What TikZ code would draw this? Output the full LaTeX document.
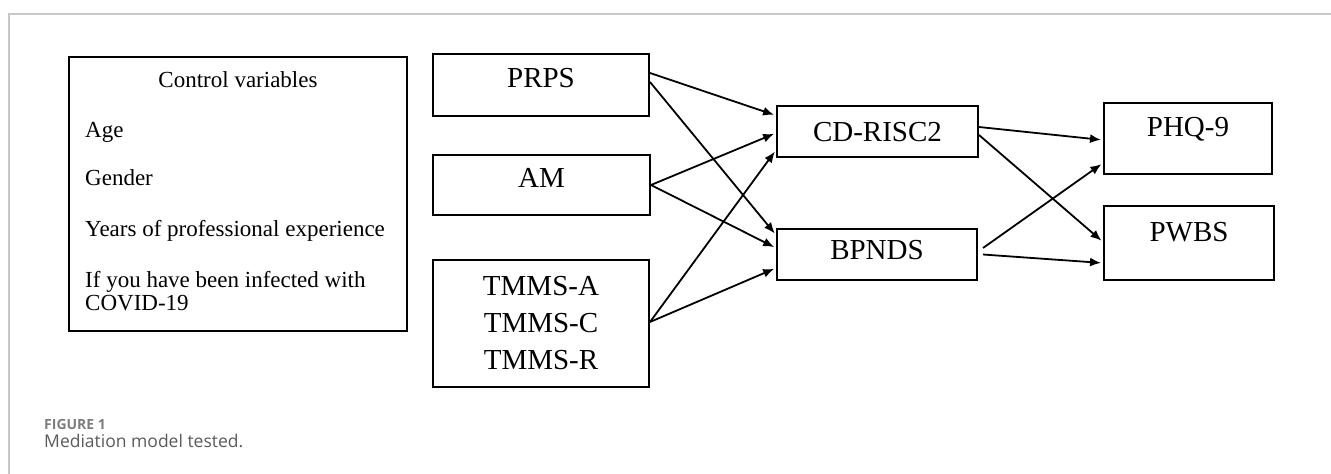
\documentclass[tikz,border=0pt]{standalone}
\usepackage{fontspec}
\setmainfont{Liberation Serif}
\newfontfamily\captionfont{Open Sans}
\usepackage{xcolor}
\usepackage{tikz}
\definecolor{framegray}{RGB}{200,200,200}
\definecolor{figlabelgray}{RGB}{125,125,125}
\definecolor{captiongray}{RGB}{90,90,90}
\usetikzlibrary{arrows.meta}

\begin{document}
\begin{tikzpicture}[
    x=1pt, y=-1pt,
    box/.style={rectangle, draw=black, line width=2pt, inner sep=0pt, font=\fontsize{29}{37}\selectfont},
    cvtext/.style={anchor=base west, inner sep=0pt, font=\fontsize{23}{26}\selectfont},
    arrow/.style={-{Latex[length=11pt,width=9pt]}, line width=1.8pt, shorten >=2pt}
]
\useasboundingbox (0,0) rectangle (1331,474);

% Page frame
\draw[framegray, line width=1.5pt] (9,474) -- (9,14) -- (1331,14);

% Control variables
\node[box, minimum width=338pt, minimum height=274pt] (ctrl) at (238,194) {};
\node[cvtext, anchor=base] (cvtitle) at (238,87) {Control variables};
\node[cvtext] (cvage) at (85,137) {Age};
\node[cvtext] (cvgender) at (85,185) {Gender};
\node[cvtext] (cvyears) at (85,236) {Years of professional experience};
\node[cvtext] (cvinfect) at (85,287) {If you have been infected with};
\node[cvtext] (cvcovid) at (85,310) {COVID-19};

% Predictors
\node[box, minimum width=216pt, minimum height=62pt, text depth=14pt] (prps) at (541,85) {PRPS};
\node[box, minimum width=217pt, minimum height=60pt, text depth=14pt] (am) at (541.5,185) {AM};
\node[box, align=center, minimum width=216pt, minimum height=127pt] (tmms) at (541,323.5) {TMMS-A\\TMMS-C\\TMMS-R};

% Mediators
\node[box, minimum width=201pt, minimum height=51pt, text depth=0pt] (cdrisc) at (877.5,131.5) {CD-RISC2};
\node[box, minimum width=200pt, minimum height=51pt, text depth=9pt] (bpnds) at (877,254.5) {BPNDS};

% Outcomes
\node[box, minimum width=168pt, minimum height=71pt, text depth=23pt] (phq) at (1188,138.5) {PHQ-9};
\node[box, minimum width=170pt, minimum height=74pt, text depth=22pt] (pwbs) at (1189,243) {PWBS};

% Arrows
\draw[arrow] ([yshift=12pt]prps.east) -- ([yshift=16pt]cdrisc.west);
\draw[arrow] ([yshift=3pt]prps.east) -- ([yshift=19.5pt]bpnds.west);
\draw[arrow] (am.east) -- ([yshift=-1.5pt]cdrisc.west);
\draw[arrow] (am.east) -- ([yshift=6.5pt]bpnds.west);
\draw[arrow] ([yshift=1.5pt]tmms.east) -- ([yshift=-18.5pt]cdrisc.west);
\draw[arrow] ([yshift=1.5pt]tmms.east) -- ([yshift=-13.5pt]bpnds.west);
\draw[arrow] ([yshift=4.5pt]cdrisc.east) -- ([yshift=-1.5pt]phq.west);
\draw[arrow] ([yshift=-3.5pt]cdrisc.east) -- ([yshift=1pt]pwbs.west);
\draw[arrow] ([xshift=5pt,yshift=6.5pt]bpnds.east) -- ([yshift=-24.5pt]phq.west);
\draw[arrow] ([xshift=5pt]bpnds.east) -- ([yshift=-20pt]pwbs.west);

% Caption
\node[anchor=base west, inner sep=0pt, font=\captionfont\bfseries\fontsize{14}{16}\selectfont, text=figlabelgray] (figlabel) at (44,429) {FIGURE 1};
\node[anchor=base west, inner sep=0pt, font=\captionfont\fontsize{17.5}{20}\selectfont, text=captiongray] (figcaption) at (44,447) {Mediation model tested.};

\end{tikzpicture}
\end{document}
